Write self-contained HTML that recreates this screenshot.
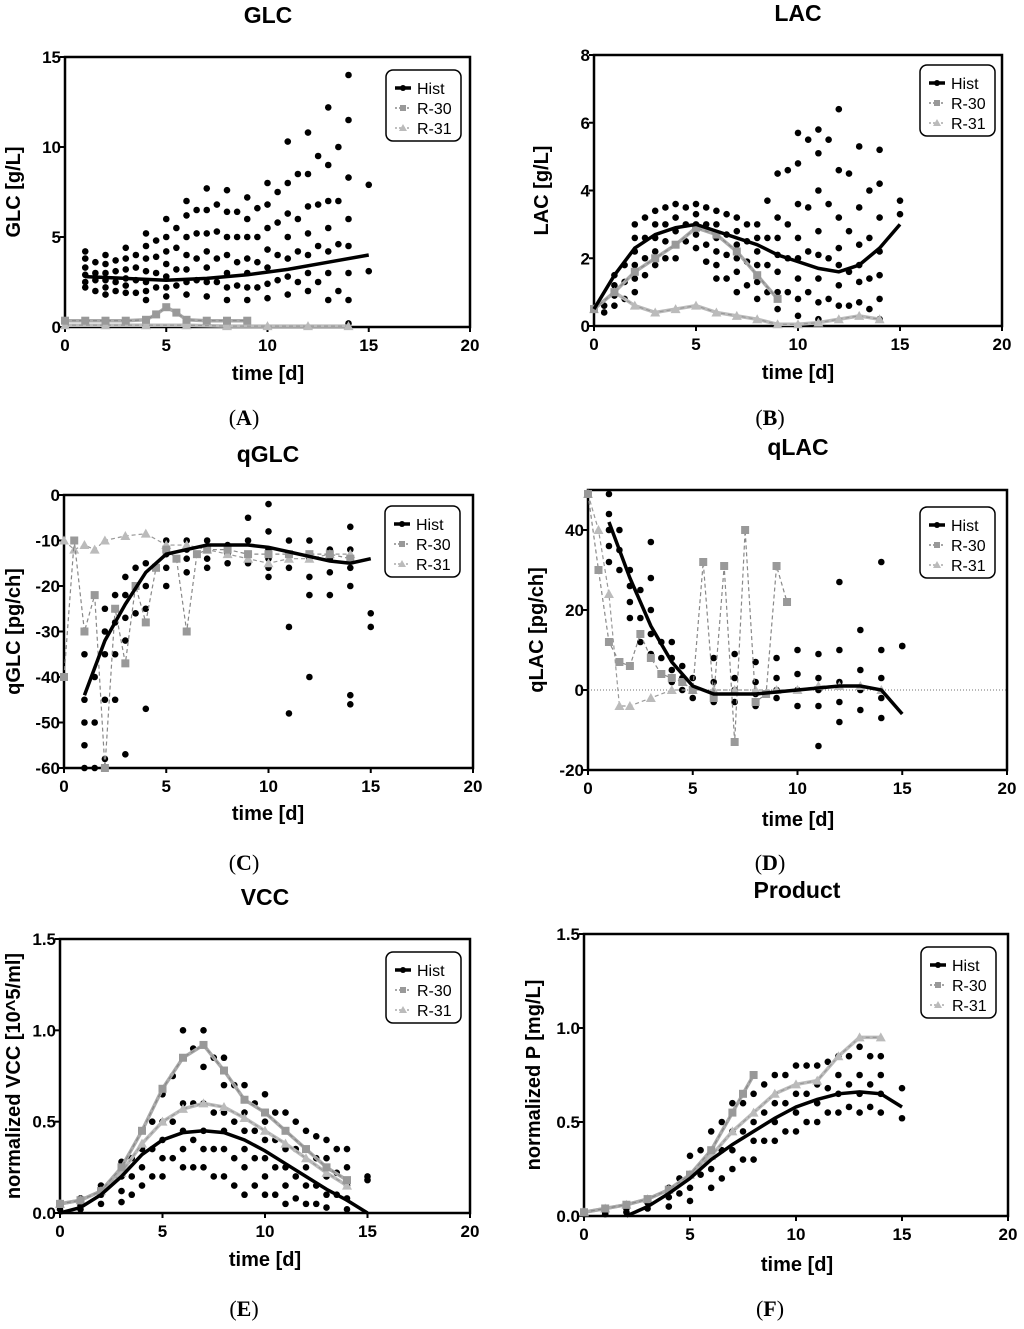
<!DOCTYPE html>
<html><head><meta charset="utf-8"><style>
body{margin:0;background:#fff;width:1024px;height:1324px;overflow:hidden}
svg text{font-family:"Liberation Sans",sans-serif}
</style></head><body>
<svg id="fig" width="1024" height="1324" viewBox="0 0 1024 1324" xmlns="http://www.w3.org/2000/svg"></svg>
<script>
// ---------- DATA ----------
const xTicks=[0,5,10,15,20];
// Panel A (GLC)
const glcDays=[1,1.5,2,2.5,3,3.5,4,4.5,5,5.5,6,6.5,7,7.5,8,8.5,9,9.5,10,10.5,11,11.5,12,12.5,13,13.5,14,15];
const glcHist=[[4.2,3.8,3.3,2.9,2.5,2.2],[3.6,3.0,2.6,2.0],[4.0,3.5,3.0,2.6,2.2,1.8],[3.7,3.1,2.5,2.0],[4.4,3.8,3.2,2.7,2.3,1.9],[4.0,3.3,2.6,1.9],[5.2,4.5,3.8,3.1,2.5,2.0,1.5],[4.8,3.9,3.0,2.2],[6.0,5.0,4.2,3.5,2.8,2.2,1.7],[5.5,4.4,3.2,2.3],[7.0,6.2,5.0,4.0,3.2,2.5,1.8],[6.5,5.2,3.8,2.6],[7.7,6.5,5.2,4.2,3.3,2.5,1.7],[6.8,5.3,3.8,2.5],[7.6,6.4,5.0,4.0,3.0,2.2,1.5],[6.4,5.0,3.6,2.3],[7.2,6.0,5.0,3.8,3.0,2.2,1.5],[6.6,5.0,3.6,2.2],[8.0,6.8,5.5,4.3,3.3,2.4,1.6],[7.5,5.8,4.0,2.6],[10.3,8.0,6.3,5.0,3.8,2.8,1.8],[8.5,6.0,4.2,2.5],[10.8,8.5,6.7,5.2,4.0,3.0,2.0],[9.5,6.8,4.5,2.5],[12.2,9.0,7.0,5.5,4.2,3.0,1.5],[10.0,7.0,4.6,2.0],[14.0,11.5,8.3,6.0,4.5,3.0,1.5,0.2],[7.9,3.1]];
const glcFitT=[1,3,5,7,9,11,13,15];
const glcFitV=[2.8,2.7,2.6,2.7,2.9,3.2,3.6,4.0];
const glcR30T=[0,1,2,3,4,4.5,5,5.5,6,7,8,9];
const glcR30V=[0.35,0.35,0.35,0.35,0.4,0.7,1.1,0.8,0.4,0.35,0.35,0.35];
const glcR31T=[0,2,4,6,8,10,12,14];
const glcR31V=[0.1,0.1,0.1,0.1,0.05,0.05,0.05,0.05];
const glcYTicks=[0,5,10,15];
// Panel B (LAC)
const lacDays=[0.5,1,1.5,2,2.5,3,3.5,4,4.5,5,5.5,6,6.5,7,7.5,8,8.5,9,9.5,10,10.5,11,11.5,12,12.5,13,13.5,14,15];
const lacHist=[[0.6,0.4],[1.5,1.2,0.9,0.6],[1.8,1.3,0.8],[3.0,2.6,2.2,1.8,1.4,1.0],[3.2,2.6,2.0,1.5],[3.4,3.0,2.6,2.2,1.8],[3.5,3.0,2.5,2.0],[3.6,3.2,2.8,2.4,2.0],[3.5,3.0,2.5],[3.6,3.3,3.0,2.7,2.3],[3.5,3.0,2.4,1.9],[3.4,3.0,2.6,2.2,1.8,1.4],[3.3,2.7,2.1,1.4],[3.2,2.8,2.4,2.0,1.6,1.0],[3.0,2.5,1.9,1.2],[3.0,2.6,2.2,1.8,1.3,0.8],[3.7,2.6,1.8,1.0],[4.5,3.2,2.6,2.1,1.6,1.0,0.5],[4.6,3.0,2.0,1.0],[5.7,4.8,3.6,2.6,2.0,1.4,0.8,0.3],[5.5,3.5,2.2,1.0],[5.8,5.1,4.0,2.8,2.1,1.4,0.7,0.2],[5.5,3.6,2.0,0.8],[6.4,4.6,3.2,2.3,1.8,1.2,0.6],[4.5,2.8,1.6,0.6],[5.3,3.5,2.4,1.8,1.3,0.7],[4.0,2.6,1.4,0.5],[5.2,4.2,3.2,2.2,1.5,0.8,0.2],[3.7,3.3]];
const lacFitT=[0,1,2,3,4,5,6,7,8,9,10,11,12,13,14,15];
const lacFitV=[0.5,1.5,2.3,2.7,2.9,3.0,2.8,2.6,2.4,2.1,1.9,1.7,1.6,1.8,2.3,3.0];
const lacR30T=[0,1,2,3,4,5,6,7,8,9];
const lacR30V=[0.5,1.0,1.6,2.0,2.4,2.9,2.7,2.2,1.5,0.8];
const lacR31T=[0,1,2,3,4,5,6,7,8,9,10,11,12,13,14];
const lacR31V=[0.5,1.0,0.6,0.4,0.5,0.6,0.4,0.3,0.2,0.05,0.05,0.1,0.2,0.3,0.2];
const lacYTicks=[0,2,4,6,8];
// Panel C (qGLC)
const qglcDays=[1,1.5,2,2.5,3,3.5,4,5,6,7,8,9,10,11,12,13,14,15];
const qglcHist=[[-35,-45,-50,-55,-60],[-40,-50,-60],[-25,-30,-35,-45,-58],[-22,-28,-35,-45],[-18,-22,-27,-32,-57],[-16,-20,-26],[-15,-20,-25,-47],[-10,-13,-16,-20],[-10,-12,-14,-17],[-10,-12,-14,-16],[-11,-13,-15],[-5,-10,-13,-15],[-2,-8,-12,-14,-16,-18],[-10,-13,-16,-29,-48],[-10,-14,-18,-22,-40],[-12,-14,-17,-22],[-7,-12,-16,-20,-44,-46],[-26,-29]];
const qglcFitT=[1,2,3,4,5,6,7,8,9,10,11,12,13,14,15];
const qglcFitV=[-44,-32,-24,-17,-13,-12,-11,-11,-11,-11.5,-12.5,-13.5,-14.5,-15,-14];
const qglcR30T=[0,0.5,1,1.5,2,2.5,3,3.5,4,4.5,5,5.5,6,6.5,7,8,9,10,11,12,13,14];
const qglcR30V=[-40,-10,-30,-22,-60,-25,-37,-20,-28,-16,-12,-14,-30,-13,-12,-12,-13,-13,-13,-13,-13,-14];
const qglcR31T=[0,0.5,1,1.5,2,3,4,5,6,7,8,9,10,11,12,13,14];
const qglcR31V=[-10,-12,-11,-12,-10,-9,-8.5,-11,-11,-12,-13,-14,-15,-14,-14,-13,-13];
const qglcYTicks=[0,-10,-20,-30,-40,-50,-60];
// Panel D (qLAC)
const qlacDays=[1,1.5,2,2.5,3,3.5,4,4.5,5,6,7,8,9,10,11,12,13,14,15];
const qlacHist=[[49,44,40,36,32],[40,35,30],[30,26,22,18],[25,18,12],[37,28,20,14,9],[12,8,4],[12,8,5,2],[6,3,0],[3,0,-2],[8,2,-1,-3],[9,3,0,-3],[7,2,-1,-4],[8,3,0,-2],[10,4,0,-4],[9,3,0,-4,-14],[27,10,2,-3,-8],[15,5,0,-5],[32,10,3,-2,-7],[11,11]];
const qlacFitT=[1,2,3,4,5,6,7,8,9,10,11,12,13,14,15];
const qlacFitV=[42,28,16,7,1,-1,-1,-1,-0.5,0,0.5,1,1,0,-6];
const qlacR30T=[0,0.5,1,1.5,2,2.5,3,3.5,4,4.5,5,5.5,6,6.5,7,7.5,8,8.5,9,9.5];
const qlacR30V=[49,30,12,7,6,14,8,4,3,2,0,32,-2,31,-13,40,-3,-1,31,22];
const qlacR31T=[0,0.5,1,1.5,2,3,4,5,6,7,8,9,10,11,12,13,14];
const qlacR31V=[49,40,24,-4,-4,-2,0,0,0,0,0,0,0,1,1,1,0];
const qlacYTicks=[-20,0,20,40];
// Panel E (VCC)
const vccDays=[0,1,2,3,3.5,4,4.5,5,5.5,6,6.5,7,7.5,8,8.5,9,9.5,10,10.5,11,11.5,12,12.5,13,13.5,14,15];
const vccHist=[[0.05,0.02],[0.08,0.04,0.02],[0.15,0.1,0.05],[0.28,0.2,0.12,0.06],[0.3,0.2,0.1],[0.45,0.35,0.25,0.15],[0.5,0.35,0.2],[0.65,0.5,0.4,0.3,0.2],[0.75,0.5,0.3],[1.0,0.85,0.6,0.45,0.35,0.25],[0.9,0.6,0.4,0.25],[1.0,0.8,0.6,0.45,0.35,0.25],[0.85,0.55,0.35,0.2],[0.85,0.7,0.55,0.45,0.35,0.2],[0.7,0.5,0.3,0.15],[0.7,0.55,0.45,0.35,0.25,0.1],[0.6,0.45,0.3,0.15],[0.65,0.5,0.4,0.3,0.2,0.1],[0.55,0.4,0.25,0.1],[0.55,0.45,0.35,0.25,0.15,0.05],[0.5,0.35,0.2,0.08],[0.45,0.35,0.25,0.15,0.05],[0.42,0.3,0.15,0.05],[0.4,0.3,0.2,0.1,0.03],[0.35,0.22,0.1],[0.35,0.25,0.15,0.08,0.02],[0.2,0.18]];
const vccFitT=[0,1,2,3,4,5,6,7,8,9,10,11,12,13,14,15];
const vccFitV=[0,0.03,0.1,0.2,0.32,0.4,0.44,0.45,0.44,0.4,0.34,0.27,0.2,0.13,0.07,0.0];
const vccR30T=[0,1,2,3,4,5,6,7,8,9,10,11,12,13,14];
const vccR30V=[0.05,0.07,0.12,0.25,0.45,0.68,0.85,0.92,0.78,0.62,0.55,0.45,0.35,0.25,0.18];
const vccR31T=[0,1,2,3,4,5,6,7,8,9,10,11,12,13,14];
const vccR31V=[0.05,0.07,0.12,0.22,0.38,0.5,0.57,0.6,0.58,0.52,0.45,0.38,0.3,0.22,0.15];
const vccYTicks=[0,0.5,1.0,1.5];
// Panel F (Product)
const prodDays=[0,1,2,3,4,4.5,5,5.5,6,6.5,7,7.5,8,8.5,9,9.5,10,10.5,11,11.5,12,12.5,13,13.5,14,15];
const prodHist=[[0.01],[0.02,0.01],[0.04,0.02],[0.07,0.04],[0.15,0.1,0.05],[0.2,0.12],[0.32,0.22,0.15,0.08],[0.35,0.22],[0.45,0.35,0.25,0.15],[0.5,0.35,0.2],[0.6,0.45,0.35,0.25],[0.6,0.45,0.3],[0.65,0.5,0.4,0.3],[0.7,0.55,0.4],[0.75,0.6,0.5,0.4],[0.75,0.6,0.45],[0.8,0.65,0.55,0.45],[0.8,0.65,0.5],[0.8,0.7,0.6,0.5],[0.82,0.68,0.55],[0.85,0.75,0.65,0.55],[0.85,0.7,0.58],[0.9,0.75,0.65,0.55],[0.85,0.7,0.58],[0.85,0.75,0.65,0.55],[0.68,0.52]];
const prodFitT=[2,3,4,5,6,7,8,9,10,11,12,13,14,15];
const prodFitV=[0.0,0.05,0.12,0.2,0.3,0.38,0.45,0.52,0.58,0.62,0.65,0.66,0.65,0.58];
const prodR30T=[0,1,2,3,4,5,6,7,7.5,8];
const prodR30V=[0.02,0.04,0.06,0.09,0.14,0.22,0.35,0.55,0.65,0.75];
const prodR31T=[0,1,2,3,4,5,6,7,8,9,10,11,12,13,14];
const prodR31V=[0.02,0.04,0.06,0.09,0.14,0.22,0.32,0.45,0.55,0.65,0.7,0.72,0.85,0.95,0.95];
const prodYTicks=[0,0.5,1.0,1.5];

// ---------- DRAW ----------
const NS="http://www.w3.org/2000/svg";
const svg=document.getElementById('fig');
function mk(tag,attrs,parent,text){const e=document.createElementNS(NS,tag);for(const k in attrs)e.setAttribute(k,attrs[k]);if(text!==undefined)e.textContent=text;(parent||svg).appendChild(e);return e;}

function panel(o){
  const g=mk('g',{});
  
  
  const sx=v=>o.x0+(v-0)/20*(o.x1-o.x0);
  const sy=v=>o.yb+(v-o.ymin)/(o.ymax-o.ymin)*(o.yt-o.yb);
  const fr=mk('rect',{x:o.x0,y:o.yt,width:o.x1-o.x0,height:o.yb-o.yt,fill:'none',stroke:'#000','stroke-width':2.5},g);
  
  
  if(o.zero){const z=mk('line',{x1:o.x0,x2:o.x1,y1:sy(0),y2:sy(0),stroke:'#444','stroke-width':0.8,'stroke-dasharray':'1,2'},g);
    
    }
  xTicks.forEach(t=>{mk('line',{x1:sx(t),x2:sx(t),y1:o.yb,y2:o.yb+5,stroke:'#000','stroke-width':2},g);
    const tl=mk('text',{x:sx(t),y:o.yb+24,'text-anchor':'middle','font-size':17,'font-weight':'bold'},g,t);
    
    });
  o.yticks.forEach(t=>{mk('line',{x1:o.x0-5,x2:o.x0,y1:sy(t),y2:sy(t),stroke:'#000','stroke-width':2},g);
    const tl=mk('text',{x:o.x0-4,y:sy(t)+6,'text-anchor':'end','font-size':17,'font-weight':'bold'},g,o.fmt?t.toFixed(1):t);
    
    });
  const ti=mk('text',{x:o.tx,y:o.ty,'text-anchor':'middle','font-size':23,'font-weight':'bold'},g,o.title);
  
  
  const xl=mk('text',{x:o.tx,y:o.xly,'text-anchor':'middle','font-size':20,'font-weight':'bold'},g,'time [d]');
  
  
  const cy=(o.yt+o.yb)/2;
  const yl=mk('text',{x:o.ylx,y:cy,'text-anchor':'middle','font-size':20,'font-weight':'bold',transform:`rotate(-90 ${o.ylx} ${cy})`},g,o.ylabel);
  
  
  const pl=mk('text',{x:o.lx,y:o.ly,'text-anchor':'middle','font-size':22,style:'font-family:"Liberation Serif",serif'},g);
  
  
  mk('tspan',{},pl,'(');mk('tspan',{'font-weight':'bold'},pl,o.plabel);mk('tspan',{},pl,')');
  function line(T,V,col,w,dash,name){const p=mk('polyline',{points:T.map((t,i)=>sx(t)+','+sy(V[i])).join(' '),fill:'none',stroke:col,'stroke-width':w,'stroke-dasharray':dash||''},g);
    
    }
  o.days.forEach((d,i)=>o.hist[i].forEach(v=>{const c=mk('circle',{cx:sx(d),cy:sy(v),r:3.3,fill:'#000'},g);
    
    }));
  if(!o.noBand)line(o.r31T,o.r31V,'#bbb',3.5,'','r31-band');
  line(o.r31T,o.r31V,'#999',1.2,'4,3','r31-line');
  o.r31T.forEach((t,i)=>{const p=mk('polygon',{points:`${sx(t)},${sy(o.r31V[i])-5} ${sx(t)-5},${sy(o.r31V[i])+4} ${sx(t)+5},${sy(o.r31V[i])+4}`,fill:'#bbb'},g);
    
    });
  if(!o.noBand)line(o.r30T,o.r30V,'#aaa',3.5,'','r30-band');
  line(o.r30T,o.r30V,'#888',1.2,'4,3','r30-line');
  o.r30T.forEach((t,i)=>{const p=mk('rect',{x:sx(t)-4,y:sy(o.r30V[i])-4,width:8,height:8,fill:'#999'},g);
    
    });
  line(o.fitT,o.fitV,'#000',3.5,'','hist-fit-line');
  const L=mk('g',{},g);
  
  
  mk('rect',{x:o.lgx,y:o.lgy,width:75,height:71,rx:7,fill:'#fff',stroke:'#000','stroke-width':1.5},L);
  [['Hist','#000'],['R-30','#888'],['R-31','#aaa']].forEach((e,i)=>{
    const yy=o.lgy+18+i*20;const ge=mk('g',{},L);
    
    
    mk('line',{x1:o.lgx+9,x2:o.lgx+25,y1:yy,y2:yy,stroke:e[1],'stroke-width':i?1.5:3.5,'stroke-dasharray':i?'2,2':''},ge);
    if(i==0)mk('circle',{cx:o.lgx+17,cy:yy,r:3,fill:'#000'},ge);
    if(i==1)mk('rect',{x:o.lgx+14,y:yy-3,width:6,height:6,fill:'#999'},ge);
    if(i==2)mk('polygon',{points:`${o.lgx+17},${yy-4} ${o.lgx+13},${yy+3} ${o.lgx+21},${yy+3}`,fill:'#bbb'},ge);
    mk('text',{x:o.lgx+31,y:yy+6,'font-size':16},ge,e[0]);
  });
}
panel({id:'glc',x0:65,x1:470,yt:57,yb:327,ymin:0,ymax:15,yticks:glcYTicks,title:'GLC',tx:268,ty:23,xly:380,ylx:20,ylabel:'GLC [g/L]',plabel:'A',lx:244,ly:425,lgx:386,lgy:70,days:glcDays,hist:glcHist,fitT:glcFitT,fitV:glcFitV,r30T:glcR30T,r30V:glcR30V,r31T:glcR31T,r31V:glcR31V});
panel({id:'lac',x0:594,x1:1002,yt:55,yb:326,ymin:0,ymax:8,yticks:lacYTicks,title:'LAC',tx:798,ty:21,xly:379,ylx:548,ylabel:'LAC [g/L]',plabel:'B',lx:770,ly:425,lgx:920,lgy:65,days:lacDays,hist:lacHist,fitT:lacFitT,fitV:lacFitV,r30T:lacR30T,r30V:lacR30V,r31T:lacR31T,r31V:lacR31V});
panel({id:'qglc',noBand:true,x0:64,x1:473,yt:495,yb:768,ymin:-60,ymax:0,yticks:qglcYTicks,title:'qGLC',tx:268,ty:462,xly:820,ylx:20,ylabel:'qGLC [pg/ch]',plabel:'C',lx:244,ly:870,lgx:385,lgy:506,days:qglcDays,hist:qglcHist,fitT:qglcFitT,fitV:qglcFitV,r30T:qglcR30T,r30V:qglcR30V,r31T:qglcR31T,r31V:qglcR31V});
panel({id:'qlac',noBand:true,x0:588,x1:1007,yt:490,yb:770,ymin:-20,ymax:50,yticks:qlacYTicks,zero:true,title:'qLAC',tx:798,ty:455,xly:826,ylx:543,ylabel:'qLAC [pg/ch]',plabel:'D',lx:770,ly:870,lgx:920,lgy:507,days:qlacDays,hist:qlacHist,fitT:qlacFitT,fitV:qlacFitV,r30T:qlacR30T,r30V:qlacR30V,r31T:qlacR31T,r31V:qlacR31V});
panel({id:'vcc',x0:60,x1:470,yt:939,yb:1213,ymin:0,ymax:1.5,fmt:true,yticks:vccYTicks,title:'VCC',tx:265,ty:905,xly:1266,ylx:20,ylabel:'normalized VCC [10^5/ml]',plabel:'E',lx:244,ly:1316,lgx:386,lgy:952,days:vccDays,hist:vccHist,fitT:vccFitT,fitV:vccFitV,r30T:vccR30T,r30V:vccR30V,r31T:vccR31T,r31V:vccR31V});
panel({id:'prod',x0:584,x1:1008,yt:934,yb:1216,ymin:0,ymax:1.5,fmt:true,yticks:prodYTicks,title:'Product',tx:797,ty:898,xly:1271,ylx:540,ylabel:'normalized P [mg/L]',plabel:'F',lx:770,ly:1316,lgx:921,lgy:947,days:prodDays,hist:prodHist,fitT:prodFitT,fitV:prodFitV,r30T:prodR30T,r30V:prodR30V,r31T:prodR31T,r31V:prodR31V});
</script>
</body></html>
